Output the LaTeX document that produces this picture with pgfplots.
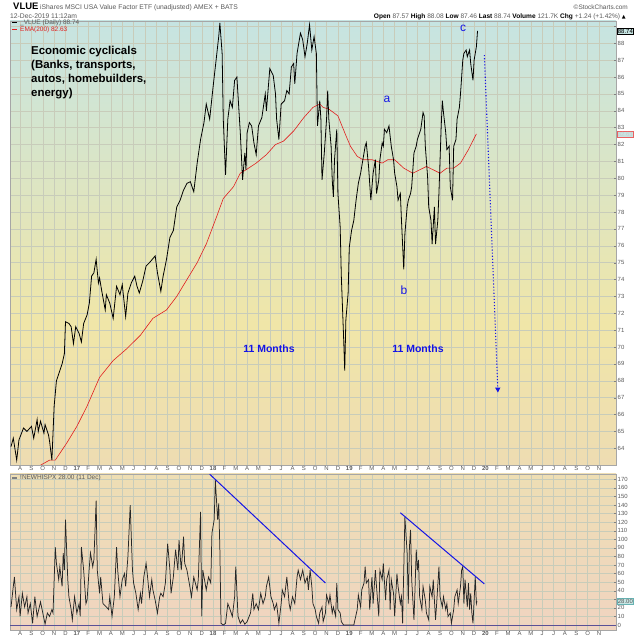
\documentclass[border=0pt]{standalone}
\usepackage{fontspec}
\setmainfont{Liberation Sans}
\newfontfamily\dejavu{DejaVu Sans}
\usepackage{pgfplots}
\pgfplotsset{compat=1.18}
\usetikzlibrary{arrows.meta}
\definecolor{bgtop}{RGB}{198,228,226}
\definecolor{bgyel}{RGB}{240,230,168}
\definecolor{bgbot}{RGB}{238,220,178}
\definecolor{lbgtop}{RGB}{238,222,180}
\definecolor{lbgbot}{RGB}{240,212,192}
\definecolor{gridc}{RGB}{200,204,186}
\definecolor{tickc}{RGB}{90,90,90}
\definecolor{annblue}{RGB}{20,20,230}
\definecolor{emared}{RGB}{225,30,30}
\pgfdeclareverticalshading{mainbg}{100bp}{color(0bp)=(bgbot); color(25bp)=(bgbot); color(41bp)=(bgyel); color(75bp)=(bgtop); color(100bp)=(bgtop)}
\pgfdeclareverticalshading{lowbg}{100bp}{color(0bp)=(lbgbot); color(25bp)=(lbgbot); color(75bp)=(lbgtop); color(100bp)=(lbgtop)}
\pgfplotsset{panel/.style={
  scale only axis, width=606bp, xmin=6.11, xmax=59.5,
  axis line style={draw=gray!70, line width=0.4pt},
  grid=major, major grid style={draw=gridc, line width=0.4pt},
  xtick={7,...,58},
  xticklabels={A,S,O,N,D,\textbf{17},F,M,A,M,J,J,A,S,O,N,D,\textbf{18},F,M,A,M,J,J,A,S,O,N,D,\textbf{19},F,M,A,M,J,J,A,S,O,N,D,\textbf{20},F,M,A,M,J,J,A,S,O,N},
  x tick label style={font=\fontsize{6}{6}\selectfont, text=tickc, inner sep=1bp},
  xtick style={draw=none},
  ytick pos=right, yticklabel pos=right,
  y tick label style={font=\fontsize{6}{6}\selectfont, text=tickc, inner sep=1.5bp},
  ytick style={draw=gray, line width=0.3pt}, major tick length=2bp,
  /pgf/number format/assume math mode=true,
}}
\begin{document}
\begin{tikzpicture}
\fill[white] (0,0) rectangle (640bp,640bp);
% ---------------- main panel
\begin{axis}[panel, at={(10bp,175bp)}, anchor=south west, height=444bp,
  ymin=63.01, ymax=89.32, ytick={64,...,89},
  yticklabels={64,65,66,67,68,69,70,71,72,73,74,75,76,77,78,79,80,81,82,83,84,85,86,87,88,},
  axis background/.style={shading=mainbg}]
\addplot[emared, line width=0.6pt] table {
8.8 63.0
9.6 63.3
10.1 63.3
11.1 64.3
12.0 65.3
12.9 66.5
14.0 68.2
15.2 69.2
16.4 69.9
17.6 70.7
18.7 71.7
19.9 72.2
20.8 73.0
21.7 74.0
22.6 75.0
23.4 76.1
24.3 77.7
24.9 78.8
25.8 79.5
26.4 80.3
26.9 80.5
27.8 80.9
28.7 81.4
29.5 82.0
30.2 82.2
31.1 82.8
32.0 83.6
32.8 84.2
33.4 84.4
33.7 84.2
34.2 84.1
35.0 83.7
35.6 82.7
36.1 81.9
36.7 81.3
37.2 81.1
38.0 81.1
38.9 80.9
39.4 81.1
40.0 81.1
40.8 80.6
41.6 80.3
42.2 80.5
42.8 80.7
43.4 80.5
44.0 80.3
44.6 80.6
45.2 80.6
45.8 80.9
46.5 81.7
47.2 82.63
};
\addplot[black, line width=0.8pt] table {
6.2 64.1
6.4 64.6
6.7 63.3
6.9 64.5
7.3 65.2
7.6 65.0
8.0 65.3
8.2 64.6
8.5 65.7
8.6 65.0
8.8 65.6
9.1 64.9
9.2 65.4
9.5 64.8
9.6 64.4
9.8 63.3
10.0 66.5
10.2 68.0
10.5 68.6
10.7 69.0
10.9 69.6
11.0 71.5
11.3 71.4
11.5 71.2
11.7 70.2
11.9 71.2
12.2 70.8
12.4 70.3
12.6 71.4
12.9 71.9
13.1 72.6
13.3 74.2
13.5 74.4
13.7 75.2
13.9 73.8
14.0 74.1
14.2 73.3
14.5 72.2
14.6 73.1
14.9 72.6
15.2 71.7
15.5 73.6
15.8 73.1
16.0 73.7
16.3 71.8
16.5 73.2
16.8 73.8
17.1 74.2
17.3 73.6
17.5 73.2
17.8 73.9
18.1 74.8
18.4 75.0
18.9 75.4
19.1 74.4
19.4 73.3
19.6 74.2
19.9 75.2
20.2 76.5
20.5 76.9
20.8 78.3
21.1 78.7
21.4 79.3
21.7 79.7
22.0 79.8
22.3 79.2
22.6 80.9
22.9 82.3
23.2 83.3
23.4 84.4
23.7 83.5
24.0 85.4
24.3 87.2
24.5 88.4
24.6 89.2
24.8 87.4
24.9 83.5
25.1 80.2
25.3 83.5
25.5 84.6
25.7 84.2
25.9 85.8
26.1 86.0
26.3 83.8
26.4 82.7
26.6 79.9
26.8 81.5
26.9 80.5
27.0 82.7
27.2 83.3
27.4 83.1
27.6 82.1
27.8 81.4
28.0 83.1
28.3 83.6
28.6 85.0
28.7 84.0
29.0 86.5
29.3 86.1
29.5 85.0
29.6 83.5
29.8 82.3
30.0 84.4
30.3 84.6
30.5 85.2
30.7 85.0
30.9 86.6
31.1 86.8
31.2 85.6
31.4 87.4
31.7 88.6
31.9 88.2
32.1 87.2
32.3 88.0
32.5 89.1
32.7 87.6
32.9 88.4
33.1 87.4
33.2 83.1
33.4 84.6
33.5 83.5
33.6 79.9
33.8 81.5
34.0 83.5
34.1 85.2
34.2 83.5
34.4 81.9
34.5 79.9
34.6 78.9
34.7 81.1
34.9 82.9
35.0 79.1
35.2 77.1
35.3 74.2
35.5 70.6
35.6 68.6
35.7 71.6
35.9 73.2
36.0 75.9
36.2 76.9
36.4 77.5
36.6 78.7
36.8 79.7
37.0 80.3
37.2 81.1
37.4 81.9
37.5 82.1
37.7 80.7
37.9 78.7
38.1 80.3
38.3 81.1
38.4 79.1
38.6 79.9
38.7 81.1
38.9 82.1
39.0 81.9
39.1 82.9
39.3 82.7
39.5 83.1
39.6 82.5
39.7 81.9
39.9 81.1
40.0 80.3
40.2 79.5
40.3 78.7
40.5 79.1
40.6 77.5
40.8 74.6
40.9 76.7
41.1 78.3
41.2 78.7
41.4 79.1
41.5 79.5
41.7 81.5
41.9 81.9
42.0 82.3
42.2 82.7
42.3 82.9
42.5 83.9
42.6 83.7
42.7 81.9
42.9 80.1
43.0 78.3
43.2 77.5
43.3 76.1
43.5 78.3
43.6 76.1
43.8 77.5
43.9 79.1
44.1 83.1
44.2 84.6
44.3 83.9
44.5 82.7
44.6 81.7
44.8 81.9
44.9 79.5
45.1 78.7
45.2 81.9
45.4 82.3
45.5 83.5
45.7 84.2
45.8 85.0
46.0 87.0
46.1 87.4
46.3 87.6
46.4 87.2
46.6 87.6
46.7 86.8
46.9 85.8
47.0 87.0
47.2 87.8
47.3 88.74
};
\draw[annblue, dotted, line width=1.1pt, -{Triangle[length=5bp,width=5bp]}] (axis cs:47.9,87.3) -- (axis cs:49.1,67.3);
\end{axis}
% ---------------- lower panel
\begin{axis}[panel, at={(10bp,10bp)}, anchor=south west, height=156bp,
  ymin=-5.8, ymax=176.2, ytick={0,10,...,170},
  yticklabels={0,10,20,,40,50,60,70,80,90,100,110,120,130,140,150,160,170},
  axis background/.style={shading=lowbg}]
\draw[color={rgb,255:red,90;green,80;blue,150}, line width=0.6pt] (axis cs:6.11,0) -- (axis cs:59.5,0);
\addplot[black!85, line width=0.75pt] table {
6.2 21
6.4 45
6.5 56
6.6 37
6.7 18
6.9 33
7.0 10
7.2 37
7.4 21
7.6 33
7.7 14
7.9 25
8.1 2
8.3 33
8.5 10
8.8 27
9.0 14
9.2 1
9.4 14
9.6 10
9.8 18
9.9 14
10.1 91
10.2 72
10.4 53
10.5 68
10.7 45
10.8 84
10.9 64
11.0 123
11.2 53
11.3 33
11.5 18
11.6 6
11.8 33
12.0 14
12.2 25
12.3 10
12.4 91
12.6 64
12.8 25
12.9 29
13.1 68
13.2 84
13.4 68
13.5 76
13.7 145
13.8 64
14.0 37
14.1 56
14.3 25
14.6 21
14.8 18
14.9 33
15.1 10
15.3 33
15.5 91
15.6 64
15.8 33
16.0 53
16.2 60
16.3 45
16.5 80
16.7 140
16.9 64
17.0 49
17.2 37
17.4 18
17.6 37
17.7 25
17.9 56
18.1 72
18.2 60
18.4 33
18.6 53
18.7 41
18.9 29
19.1 14
19.3 33
19.4 37
19.6 33
19.8 49
20.0 95
20.2 64
20.3 37
20.5 56
20.7 88
20.9 64
21.0 99
21.2 64
21.4 103
21.5 72
21.7 64
21.9 49
22.1 33
22.3 56
22.6 41
22.7 53
22.9 132
23.0 10
23.1 64
23.4 41
23.6 56
23.8 49
23.9 107
24.1 123
24.2 169
24.4 123
24.5 142
24.6 88
24.7 2
24.9 0
25.1 2
25.3 25
25.5 18
25.7 10
25.9 33
26.0 68
26.2 10
26.4 2
26.6 6
26.8 1
27.0 4
27.3 14
27.5 37
27.6 18
27.8 25
28.0 18
28.2 37
28.4 25
28.6 33
28.7 45
28.9 56
29.1 33
29.3 25
29.4 18
29.6 25
29.8 2
30.0 25
30.1 41
30.3 33
30.5 56
30.7 25
30.8 18
31.0 33
31.2 25
31.4 56
31.5 64
31.7 53
31.9 64
32.1 49
32.3 56
32.4 41
32.55 64
32.7 45
32.8 25
33.0 18
33.1 10
33.3 2
33.4 14
33.6 21
33.7 4
33.9 14
34.0 35
34.2 25
34.3 35
34.5 14
34.6 21
34.8 10
34.9 49
35.0 18
35.2 14
35.3 4
35.5 0
35.8 0
36.4 0
36.5 6
36.7 18
36.8 35
37.0 21
37.1 41
37.3 49
37.4 68
37.5 49
37.7 53
37.8 18
38.0 56
38.1 25
38.3 64
38.4 45
38.6 10
38.7 64
38.9 53
39.0 72
39.2 29
39.3 53
39.5 64
39.6 18
39.7 53
39.9 37
40.0 10
40.2 60
40.3 45
40.5 25
40.6 33
40.7 2
40.8 64
40.9 126
41.1 84
41.2 25
41.3 91
41.4 111
41.5 53
41.7 6
41.8 45
41.9 88
42.0 64
42.1 76
42.2 33
42.4 18
42.5 45
42.7 29
42.8 14
43.0 6
43.1 45
43.3 33
43.4 53
43.6 6
43.7 25
43.9 68
44.0 33
44.2 21
44.3 33
44.5 18
44.6 25
44.7 10
44.9 14
45.0 2
45.2 18
45.3 33
45.5 41
45.6 25
45.8 45
45.9 64
46.0 68
46.1 25
46.2 53
46.4 21
46.5 49
46.6 18
46.7 37
46.8 14
46.9 2
47.1 56
47.2 25
47.25 28
};
\draw[annblue, line width=1pt] (axis cs:23.7,176) -- (axis cs:33.9,49);
\draw[annblue, line width=1pt] (axis cs:40.5,131) -- (axis cs:47.9,48);
\end{axis}
% ---------------- header
\node[anchor=base west, inner sep=0, font=\fontsize{9.5}{9}\selectfont\bfseries] at (13bp,630bp) {VLUE};
\node[anchor=base west, inner sep=0, font=\fontsize{6.8}{7}\selectfont, text=tickc] at (40bp,630bp) {iShares MSCI USA Value Factor ETF (unadjusted) AMEX + BATS};
\node[anchor=base west, inner sep=0, font=\fontsize{6.8}{7}\selectfont, text=tickc] at (10bp,621bp) {12-Dec-2019 11:12am};
\node[anchor=base east, inner sep=0, font=\fontsize{6.5}{7}\selectfont, text=tickc] at (628bp,630bp) {©StockCharts.com};
\node[anchor=base east, inner sep=0, font=\fontsize{6.6}{7}\selectfont, text=tickc] at (626bp,621bp) {{\color{black}\bfseries Open} 87.57 {\color{black}\bfseries High} 88.08 {\color{black}\bfseries Low} 87.46 {\color{black}\bfseries Last} 88.74 {\color{black}\bfseries Volume} 121.7K {\color{black}\bfseries Chg} +1.24 (+1.42\%) {\dejavu\fontsize{5}{5}\selectfont\color{black}▲}};
% ---------------- legends
\draw[black, line width=0.8pt] (12bp,617.5bp) -- (17bp,617.5bp);
\node[anchor=west, inner sep=0, font=\fontsize{6.5}{7}\selectfont, text=tickc] at (20bp,617.5bp) {\_VLUE (Daily) 88.74};
\draw[emared, line width=0.8pt] (12bp,610.5bp) -- (17bp,610.5bp);
\node[anchor=west, inner sep=0, font=\fontsize{6.5}{7}\selectfont, text=emared] at (20bp,610.5bp) {EMA(200) 82.63};
\draw[gray, line width=1.2pt] (12bp,162bp) -- (17bp,162bp);
\node[anchor=west, inner sep=0, font=\fontsize{6.5}{7}\selectfont, text=tickc] at (20bp,162bp) {!NEWHISPX 28.00 (11 Dec)};
% ---------------- value tags
\node[anchor=west, draw=black, fill=bgtop, inner sep=0.7bp, font=\fontsize{6}{6}\selectfont, text=black] at (617bp,609bp) {88.74};
\node[anchor=west, draw=emared!70, fill=bgtop, inner sep=0.6bp, font=\fontsize{6}{6}\selectfont, text=gray!40] at (617bp,506bp) {82.63};
\node[anchor=west, draw=teal!60, fill=bgtop, inner sep=0.7bp, font=\fontsize{6}{6}\selectfont, text=tickc] at (617bp,39bp) {28.00};
% ---------------- annotations
\node[anchor=north west, inner sep=0, align=left, font=\fontsize{11.5}{14}\selectfont\bfseries] at (31bp,594bp) {Economic cyclicals\\(Banks, transports,\\autos, homebuilders,\\energy)};
\node[annblue, font=\fontsize{10.5}{11}\selectfont\bfseries] at (269bp,291bp) {11 Months};
\node[annblue, font=\fontsize{10.5}{11}\selectfont\bfseries] at (418bp,291bp) {11 Months};
\node[annblue, font=\fontsize{12}{12}\selectfont] at (387bp,541bp) {a};
\node[annblue, font=\fontsize{12}{12}\selectfont] at (404bp,350bp) {b};
\node[annblue, font=\fontsize{12}{12}\selectfont, inner sep=1bp] at (463bp,612bp) {c};
\pgfresetboundingbox
\path[use as bounding box] (0,0) rectangle (640bp,640bp);
\end{tikzpicture}
\end{document}
